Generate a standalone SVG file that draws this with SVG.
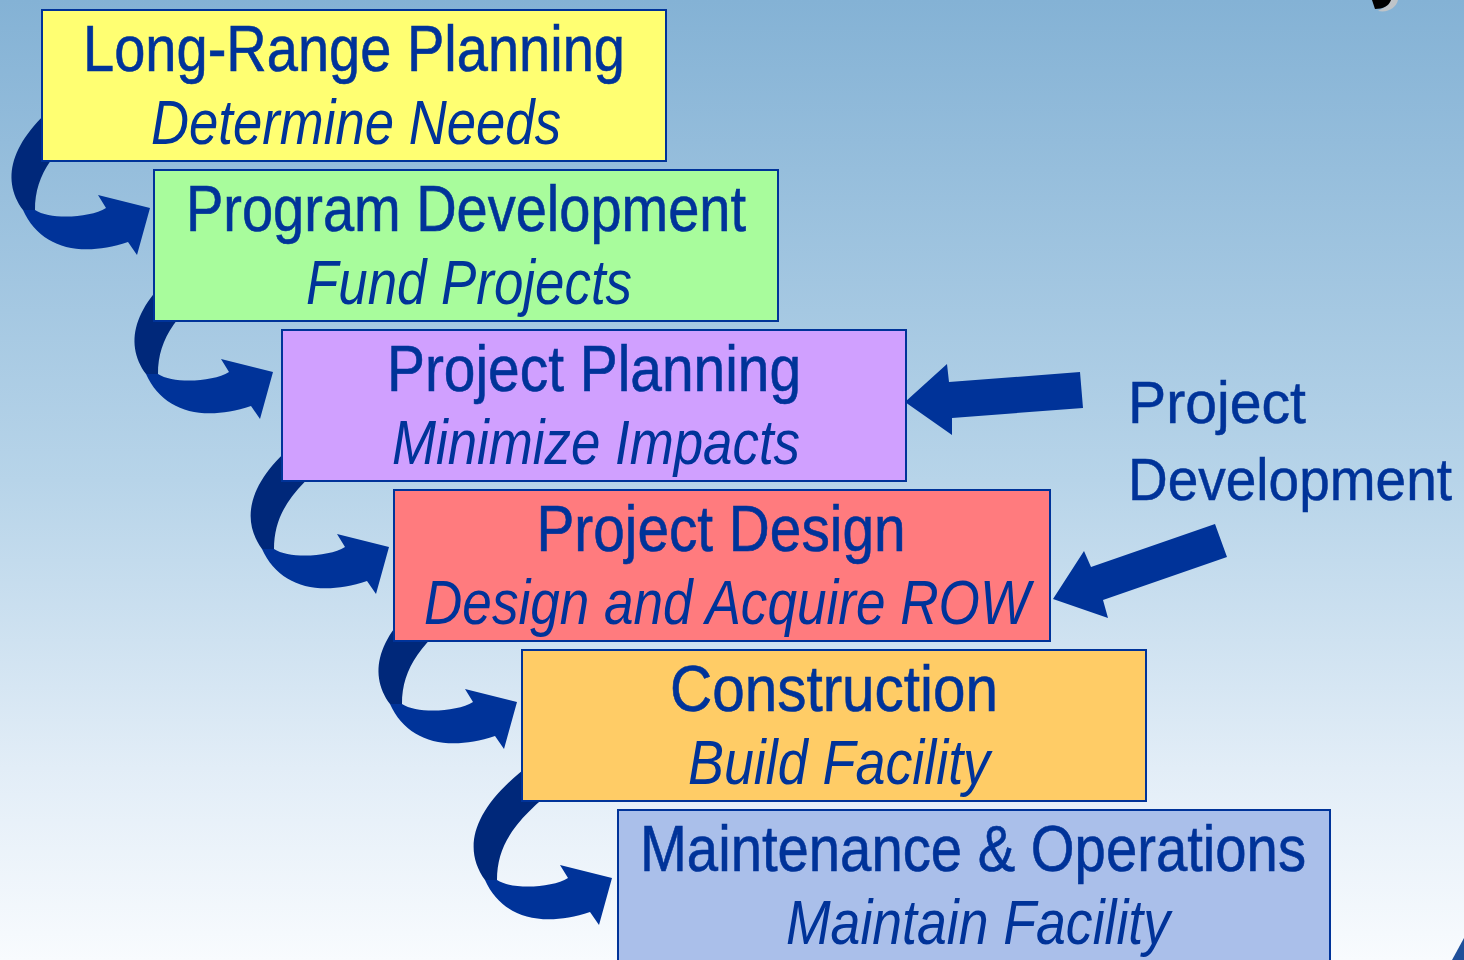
<svg xmlns="http://www.w3.org/2000/svg" xmlns:xlink="http://www.w3.org/1999/xlink" width="1464" height="960" viewBox="0 0 1464 960">
  <defs>
    <linearGradient id="bg" x1="0" y1="0" x2="0" y2="1">
      <stop offset="0" stop-color="#84b2d5"/>
      <stop offset="0.5" stop-color="#b7d4e9"/>
      <stop offset="0.8" stop-color="#e2edf7"/>
      <stop offset="1" stop-color="#f8fbfe"/>
    </linearGradient>
    <g id="curl">
      <path class="back" d="M -80 -115 C -140 -70, -150 -30, -127 2 L -115 2 C -115 -35, -95 -60, -50 -95 Z"/>
      <path class="front" d="M -127 2 C -110 40, -70 50, -22 34 L -13 47 L 0 0 L -52 -13 L -44 0 C -60 10, -100 12, -115 2 Z"/>
    </g>
    <style>
      .box { stroke: #003399; stroke-width: 2; }
      .t1 { font-family: "Liberation Sans", Arial, sans-serif; font-size: 64px; fill: #003399; stroke: #003399; stroke-width: 0.6; text-anchor: middle; }
      .t2 { font-family: "Liberation Sans", Arial, sans-serif; font-size: 63px; font-style: italic; fill: #003399; text-anchor: middle; }
      .lbl { font-family: "Liberation Sans", Arial, sans-serif; font-size: 60px; fill: #003399; stroke: #003399; stroke-width: 0.5; }
      .back { fill: #00287a; }
      .front { fill: #003399; }
      .block { fill: #003399; }
    </style>
  </defs>

  <rect x="0" y="0" width="1464" height="960" fill="url(#bg)"/>

  <!-- decorative fragments at edges -->
  <path d="M 1375 0 L 1398 0 C 1396 8, 1388 13, 1378 11 C 1384 8, 1389 5, 1390 0 Z" fill="#bfc4c8"/>
  <path d="M 1372 0 L 1391 0 C 1389 6, 1383 9, 1375 9 Z" fill="#000000"/>
  <polygon points="1452,960 1464,938 1464,960" fill="#1f4f9a"/>

  <g id="connectors">
    <use xlink:href="#curl" transform="translate(150,208)"/>
    <use xlink:href="#curl" transform="translate(273,372)"/>
    <use xlink:href="#curl" transform="translate(389,547)"/>
    <use xlink:href="#curl" transform="translate(517,702)"/>
    <use xlink:href="#curl" transform="translate(612,878)"/>
    <polygon class="block" points="905,402 947,364 949,382 1080,372 1083,408 952,418 952,435"/>
    <polygon class="block" points="1053,599 1084,551 1091,567 1215,524 1227,557 1103,600 1108,618"/>
  </g>

  <g id="node-long-range-planning">
    <rect class="box" x="42" y="10" width="624" height="151" fill="#ffff72"/>
    <text class="t1" x="354" y="71" textLength="542" lengthAdjust="spacingAndGlyphs">Long-Range Planning</text>
    <text class="t2" x="356" y="144" textLength="410" lengthAdjust="spacingAndGlyphs">Determine Needs</text>
  </g>

  <g id="node-program-development">
    <rect class="box" x="154" y="170" width="624" height="151" fill="#a8fc9c"/>
    <text class="t1" x="466" y="231" textLength="560" lengthAdjust="spacingAndGlyphs">Program Development</text>
    <text class="t2" x="469" y="304" textLength="326" lengthAdjust="spacingAndGlyphs">Fund Projects</text>
  </g>

  <g id="node-project-planning">
    <rect class="box" x="282" y="330" width="624" height="151" fill="#d0a0ff"/>
    <text class="t1" x="594" y="391" textLength="414" lengthAdjust="spacingAndGlyphs">Project Planning</text>
    <text class="t2" x="596" y="464" textLength="408" lengthAdjust="spacingAndGlyphs">Minimize Impacts</text>
  </g>

  <g id="node-project-design">
    <rect class="box" x="394" y="490" width="656" height="151" fill="#ff7b7e"/>
    <text class="t1" x="721" y="551" textLength="369" lengthAdjust="spacingAndGlyphs">Project Design</text>
    <text class="t2" x="727" y="624" textLength="606" lengthAdjust="spacingAndGlyphs">Design and Acquire ROW</text>
  </g>

  <g id="node-construction">
    <rect class="box" x="522" y="650" width="624" height="151" fill="#ffcc66"/>
    <text class="t1" x="834" y="711" textLength="328" lengthAdjust="spacingAndGlyphs">Construction</text>
    <text class="t2" x="839" y="784" textLength="302" lengthAdjust="spacingAndGlyphs">Build Facility</text>
  </g>

  <g id="node-maintenance-operations">
    <rect class="box" x="618" y="810" width="712" height="160" fill="#aabfea"/>
    <text class="t1" x="973" y="871" textLength="666" lengthAdjust="spacingAndGlyphs">Maintenance &amp; Operations</text>
    <text class="t2" x="978" y="944" textLength="384" lengthAdjust="spacingAndGlyphs">Maintain Facility</text>
  </g>

  <g id="label-project-development">
    <text class="lbl" x="1128" y="423" textLength="178" lengthAdjust="spacingAndGlyphs">Project</text>
    <text class="lbl" x="1128" y="500" textLength="324" lengthAdjust="spacingAndGlyphs">Development</text>
  </g>
</svg>
